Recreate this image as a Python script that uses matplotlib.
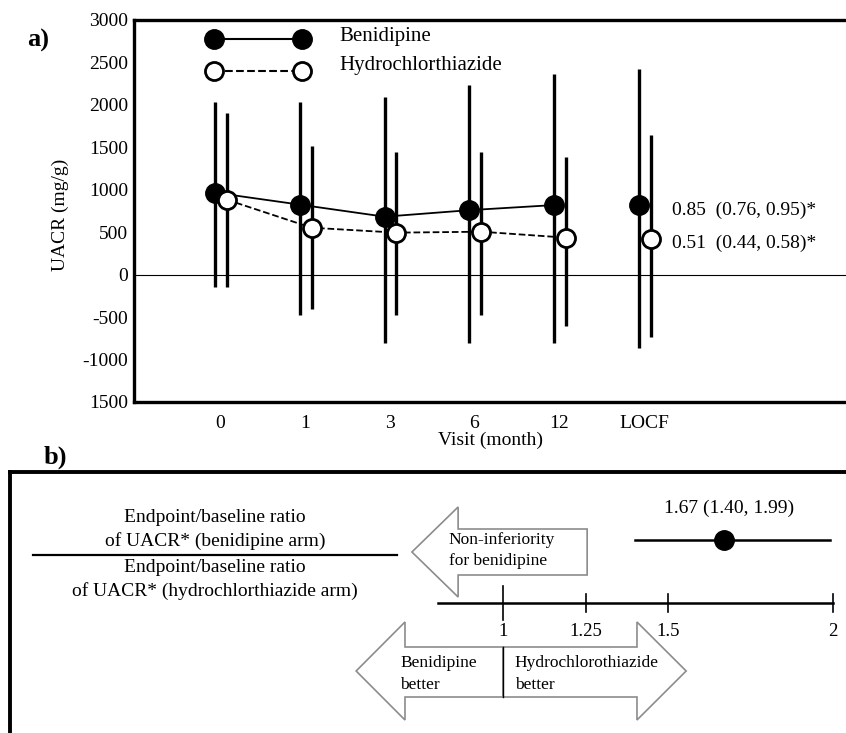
import matplotlib
matplotlib.use('Agg')
import matplotlib.pyplot as plt
from matplotlib.patches import Polygon
import numpy as np

plt.rcParams['font.family'] = ['Liberation Serif', 'DejaVu Serif']

# panel a data (UACR, mg/g)
visits = ['0', '1', '3', '6', '12', 'LOCF']
beni_mean = [966, 825, 683, 760, 820, 825]
beni_upper = [2038, 2038, 2097, 2238, 2367, 2426]
beni_lower = [-141, -471, -801, -801, -801, -860]
hctz_mean = [883, 553, 495, 506, 436, 424]
hctz_upper = [1908, 1519, 1449, 1449, 1390, 1649]
hctz_lower = [-141, -400, -471, -471, -600, -730]
ytick_vals = [3000, 2500, 2000, 1500, 1000, 500, 0, -500, -1000, -1500]
ytick_labels = ['3000', '2500', '2000', '1500', '1000', '500', '0', '-500', '-1000', '1500']
ratio_labels = ['0.85  (0.76, 0.95)*', '0.51  (0.44, 0.58)*']

# panel b data
ratio_est = 1.67
ratio_ci = (1.40, 1.99)
ratio_ticks = [1, 1.25, 1.5, 2]
ratio_tick_labels = ['1', '1.25', '1.5', '2']

W, H = 846, 733
fig = plt.figure(figsize=(W / 100, H / 100), dpi=100)

# ---------------- panel a ----------------
ax = fig.add_axes([134 / W, (H - 402) / H, (W - 134) / W, 382 / H])
x = np.arange(len(visits))
xb = x - 0.06
xh = x + 0.08

ax.axhline(0, color='black', lw=0.8, zorder=1)
ax.vlines(xb, beni_lower, beni_upper, color='black', lw=2.4, zorder=2)
ax.vlines(xh, hctz_lower, hctz_upper, color='black', lw=2.4, zorder=2)
ax.plot(xb[:5], beni_mean[:5], '-', color='black', lw=1.3, zorder=3)
ax.plot(xh[:5], hctz_mean[:5], '--', color='black', lw=1.3, zorder=3)
ax.plot(xb, beni_mean, 'o', ms=14, color='black', zorder=4)
ax.plot(xh, hctz_mean, 'o', ms=13, mfc='white', mec='black', mew=2, zorder=4)

ax.set_xlim(-1.014, 7.38)
ax.set_ylim(-1500, 3000)
ax.set_yticks(ytick_vals)
ax.set_yticklabels(ytick_labels)
ax.set_xticks(x)
ax.set_xticklabels(visits)
ax.tick_params(length=0, labelsize=14, pad=4)
ax.tick_params(axis='x', pad=9)
for s in ['left', 'top', 'bottom']:
    ax.spines[s].set_linewidth(2.4)
ax.spines['right'].set_visible(False)
ax.set_xlabel('Visit (month)', fontsize=14, labelpad=0)

# legend drawn by hand
ax.plot([0.112, 0.236], [0.950, 0.950], '-o', color='black', lw=1.5, ms=14,
        transform=ax.transAxes, clip_on=False)
ax.plot([0.112, 0.236], [0.866, 0.866], '--o', color='black', lw=1.5, ms=13,
        mfc='white', mew=2, transform=ax.transAxes, clip_on=False)
ax.text(0.289, 0.958, 'Benidipine', fontsize=15, va='center', transform=ax.transAxes)
ax.text(0.289, 0.880, 'Hydrochlorthiazide', fontsize=15, va='center', transform=ax.transAxes)

ax.text(0.756, 0.503, ratio_labels[0], fontsize=14, va='center', transform=ax.transAxes)
ax.text(0.756, 0.416, ratio_labels[1], fontsize=14, va='center', transform=ax.transAxes)

fig.text(27 / W, 1 - 40 / H, 'a)', fontsize=19, fontweight='bold', va='center')
fig.text(60 / W, 1 - 215 / H, 'UACR (mg/g)', fontsize=14, rotation=90, va='center', ha='center')

# ---------------- panel b ----------------
fig.text(44 / W, 1 - 457 / H, 'b)', fontsize=19, fontweight='bold', va='center')
bx = fig.add_axes([10 / W, 0, (W - 10) / W, (H - 472) / H])
bx.set_xlim(1 - 493 / 330, 1 + 343 / 330)
bx.set_ylim(H, 472)
bx.set_xticks([])
bx.set_yticks([])
bx.spines['top'].set_linewidth(2.8)
bx.spines['left'].set_linewidth(2.8)
bx.spines['right'].set_visible(False)
bx.spines['bottom'].set_visible(False)

# ratio axis
bx.plot([0.803, 2.0], [603, 603], color='black', lw=1.8)
for t, lab in zip(ratio_ticks, ratio_tick_labels):
    if t == 1:
        bx.plot([t, t], [586, 620], color='black', lw=1.2)
    else:
        bx.plot([t, t], [594, 612], color='black', lw=1.2)
    bx.text(t, 631, lab, fontsize=13.5, ha='center', va='center')

# estimate with CI
bx.plot(list(ratio_ci), [540, 540], color='black', lw=1.8)
bx.plot([ratio_est], [540], 'o', color='black', ms=14)
bx.text(ratio_est + 0.015, 508, '%.2f (%.2f, %.2f)' % (ratio_est, ratio_ci[0], ratio_ci[1]),
        fontsize=14, ha='center', va='center')

# fraction label
bx.text(0.127, 517, 'Endpoint/baseline ratio', fontsize=14, ha='center', va='center')
bx.text(0.127, 541, 'of UACR* (benidipine arm)', fontsize=14, ha='center', va='center')
bx.plot([-0.424, 0.679], [555, 555], color='black', lw=1.6)
bx.text(0.127, 567, 'Endpoint/baseline ratio', fontsize=14, ha='center', va='center')
bx.text(0.127, 591, 'of UACR* (hydrochlorthiazide arm)', fontsize=14, ha='center', va='center')

# arrows
arrow_style = dict(facecolor='white', edgecolor='#8c8c8c', lw=1.2)
non_inf = [(0.724, 552), (0.864, 507), (0.864, 529), (1.255, 529),
           (1.255, 575), (0.864, 575), (0.864, 597)]
bx.add_patch(Polygon(non_inf, closed=True, **arrow_style))
bx.text(0.836, 540, 'Non-inferiority', fontsize=12.5, va='center')
bx.text(0.836, 561, 'for benidipine', fontsize=12.5, va='center')

left_arr = [(0.555, 671), (0.703, 622), (0.703, 647), (1.0, 647),
            (1.0, 697), (0.703, 697), (0.703, 720)]
right_arr = [(1.555, 671), (1.406, 622), (1.406, 647), (1.0, 647),
             (1.0, 697), (1.406, 697), (1.406, 720)]
bx.add_patch(Polygon(left_arr, closed=True, **arrow_style))
bx.add_patch(Polygon(right_arr, closed=True, **arrow_style))
bx.plot([1, 1], [647, 697], color='black', lw=1)
bx.text(0.688, 663, 'Benidipine', fontsize=12.5, va='center')
bx.text(0.688, 685, 'better', fontsize=12.5, va='center')
bx.text(1.036, 663, 'Hydrochlorothiazide', fontsize=12.5, va='center')
bx.text(1.036, 685, 'better', fontsize=12.5, va='center')

fig.savefig('out.png', dpi=100)
